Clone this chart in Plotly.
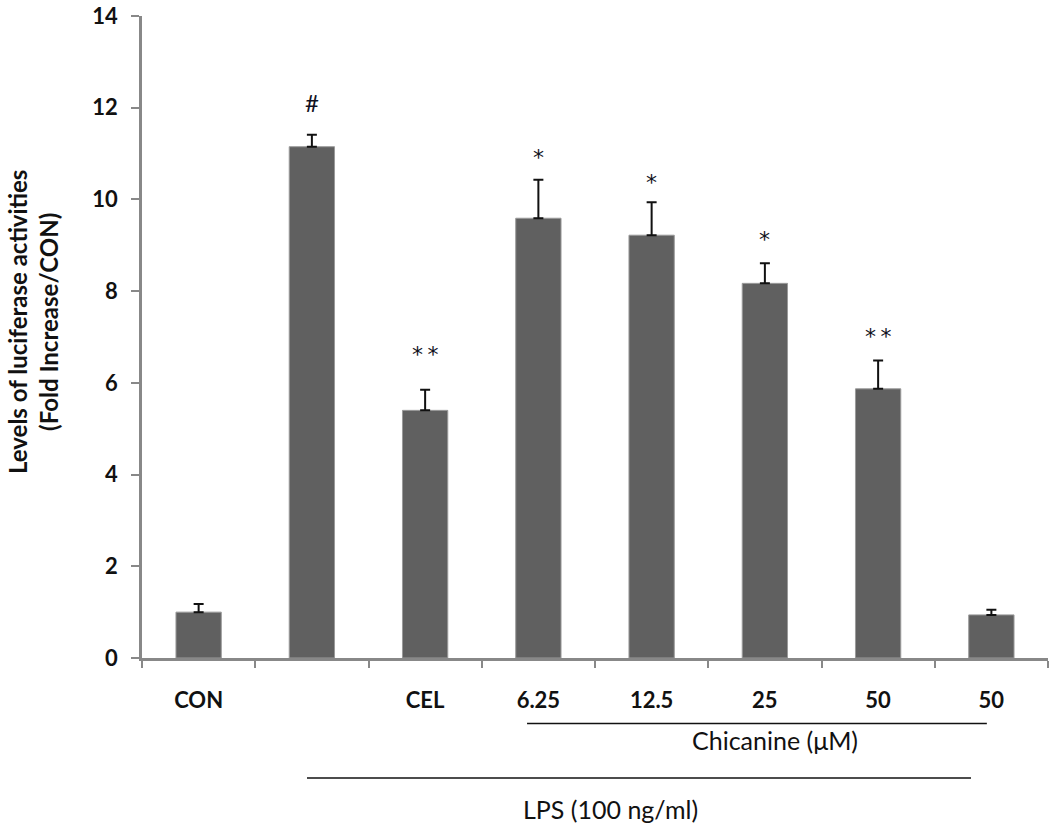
import plotly.graph_objects as go

categories = ["CON", "LPS", "CEL", "6.25", "12.5", "25", "50", "50 "]
tick_labels = ["CON", "", "CEL", "6.25", "12.5", "25", "50", "50"]
values = [1.0, 11.15, 5.40, 9.59, 9.22, 8.17, 5.87, 0.94]
errors = [0.18, 0.26, 0.45, 0.84, 0.72, 0.44, 0.62, 0.11]
sig_labels = ["", "#", "**", "*", "*", "*", "**", ""]
sig_y = [0, 12.0, 6.6, 10.9, 10.35, 9.1, 7.0, 0]

FONT = "Lato"

fig = go.Figure()
fig.add_trace(go.Bar(
    x=categories, y=values,
    marker=dict(color="#606060", line=dict(color="#9a9a9a", width=1)),
    error_y=dict(type="data", array=errors, arrayminus=[0]*len(errors),
                 symmetric=False, color="#111111", thickness=2, width=5),
    showlegend=False,
))

annotations = []
for i, (s, yy) in enumerate(zip(sig_labels, sig_y)):
    if s:
        star = "*" in s
        annotations.append(dict(x=i, y=yy, xref="x", yref="y",
                                text=s.replace("**", "*\u2009*") if star else s, showarrow=False,
                                font=dict(family="DejaVu Sans" if star else FONT,
                                          size=22 if star else 24, color="#111122"),
                                yshift=1 if star else 5))

annotations += [
    dict(x=5.09, y=-0.154, xref="x", yref="paper", text="Chicanine (μM)", showarrow=False,
         font=dict(family=FONT, size=25, color="#111111")),
    dict(x=3.64, y=-0.261, xref="x", yref="paper", text="LPS (100 ng/ml)", showarrow=False,
         font=dict(family=FONT, size=25, color="#111111")),
    dict(x=-0.1205, y=0.523, xref="paper", yref="paper", textangle=-90, showarrow=False,
         xanchor="center", yanchor="middle",
         text="<b>Levels of luciferase activities<br>(Fold Increase/CON)</b>",
         font=dict(family=FONT, size=24, color="#111111")),
]

shapes = [
    dict(type="line", xref="x", yref="paper", x0=2.90, x1=6.96, y0=-0.102, y1=-0.102,
         line=dict(color="#111111", width=1.5)),
    dict(type="line", xref="x", yref="paper", x0=0.957, x1=6.82, y0=-0.187, y1=-0.187,
         line=dict(color="#111111", width=1.5)),
]

fig.update_layout(
    width=1050, height=839,
    margin=dict(l=142, r=2, t=10, b=181),
    plot_bgcolor="white", paper_bgcolor="white",
    bargap=0.6,
    annotations=annotations, shapes=shapes,
    font=dict(family=FONT, color="#111111"),
)
fig.update_xaxes(
    type="category", range=[-0.5, 7.5],
    tickmode="array", tickvals=categories, ticktext=[f"<b>{t}</b>" for t in tick_labels],
    tickson="boundaries", ticks="outside", ticklen=7, tickwidth=2, tickcolor="#888888",
    showline=True, linecolor="#888888", linewidth=3, tickangle=0,
    tickfont=dict(family=FONT, size=22, color="#111111"),
    ticklabelstandoff=21, showgrid=False, zeroline=False,
)
fig.update_yaxes(
    range=[0, 14], tickvals=[0, 2, 4, 6, 8, 10, 12, 14],
    ticktext=[f"<b>{v}</b>" for v in [0, 2, 4, 6, 8, 10, 12, 14]],
    ticks="outside", ticklen=8, tickwidth=2, tickcolor="#888888",
    showline=True, linecolor="#888888", linewidth=2.5,
    tickfont=dict(family=FONT, size=22, color="#111111"),
    ticklabelstandoff=9, ticklabeloverflow="allow", showgrid=False, zeroline=False,
)

fig.write_html("out.html", config={"displayModeBar": False},
               post_script="document.body.style.margin='0';")
